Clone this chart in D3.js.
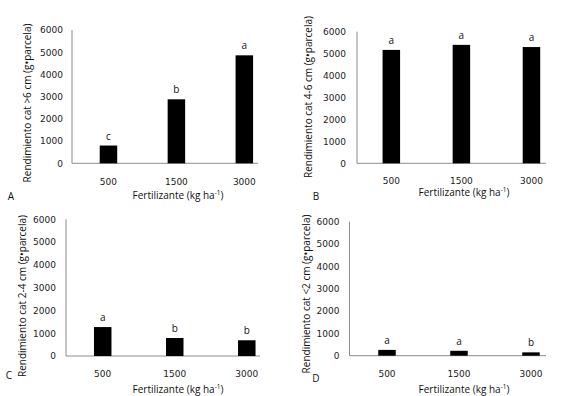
<!DOCTYPE html>
<html><head><meta charset="utf-8">
<script src="https://cdn.jsdelivr.net/npm/d3@7"></script>
<style>body{margin:0;background:#fff}svg{display:block}</style>
</head><body>
<script>
const categories = ["500", "1500", "3000"];
const yTicks = [0, 1000, 2000, 3000, 4000, 5000, 6000];
const valuesA = [800, 2880, 4860];
const valuesB = [5170, 5400, 5300];
const valuesC = [1270, 790, 690];
const valuesD = [260, 220, 150];
const lettersA = ["c", "b", "a"];
const lettersB = ["a", "a", "a"];
const lettersC = ["a", "b", "b"];
const lettersD = ["a", "a", "b"];
const panelNames = ["A", "B", "C", "D"];
const yLabels = [
  "Rendimiento cat >6 cm (g\u2022parcela)",
  "Rendimiento cat 4-6 cm (g\u2022parcela)",
  "Rendimiento cat 2-4 cm (g\u2022parcela)",
  "Rendimiento cat <2 cm (g\u2022parcela)"
];

const layouts = [
  {ax:72, y0:163.3, y1:30, r:[74.5,278.3], end:258, gap:9, tickY:185, xl:[178,199], pl:[11,200], yl:[27,103]},
  {ax:357, y0:163.3, y1:31.7, r:[356.3,566.5], end:546, gap:11, tickY:184, xl:[464,195.5], pl:[316,200], yl:[308,97]},
  {ax:66, y0:356, y1:219.3, r:[66.7,282.8], end:260, gap:10, tickY:376.5, xl:[178,392.5], pl:[9,379], yl:[22,296]},
  {ax:349.5, y0:355.7, y1:221.7, r:[351,567], end:546, gap:10, tickY:376.5, xl:[464,392.5], pl:[316,382], yl:[306,294]}
];
const data = [valuesA, valuesB, valuesC, valuesD];
const letters = [lettersA, lettersB, lettersC, lettersD];

const svg = d3.select("body").append("svg").attr("width", 562).attr("height", 396);
const tickFont = "'DejaVu Sans', Verdana, sans-serif";
const labFont = "'Open Sans', 'Liberation Sans', Arial, sans-serif";

layouts.forEach((L, i) => {
  const g = svg.append("g");
  const y = d3.scaleLinear().domain([0, 6000]).range([L.y0, L.y1]);
  const x = d3.scaleBand().domain(categories).range(L.r).paddingInner(0.75).paddingOuter(0.375);
  const yAxis = d3.axisLeft(y).tickValues(yTicks).tickSize(0).tickPadding(L.gap).tickFormat(d3.format("d"));
  const ya = g.append("g").attr("transform", `translate(${L.ax},0)`).call(yAxis);
  ya.select(".domain").attr("stroke", "#8c8c8c").attr("d", `M0,${L.y1}V${L.y0}`);
  ya.selectAll("text").attr("font-family", tickFont).attr("font-size", 9).attr("fill", "#222");
  g.append("line").attr("x1", L.ax).attr("x2", L.end).attr("y1", L.y0).attr("y2", L.y0)
    .attr("stroke", "#8c8c8c").attr("stroke-width", 1);
  const bw = 17.5;
  g.selectAll("rect.bar").data(data[i]).enter().append("rect").attr("class", "bar")
    .attr("x", (d, j) => x(categories[j]) + x.bandwidth() / 2 - bw / 2)
    .attr("width", bw)
    .attr("y", d => y(d))
    .attr("height", d => y(0) - y(d))
    .attr("fill", "#000");
  g.selectAll("text.let").data(data[i]).enter().append("text").attr("class", "let")
    .attr("x", (d, j) => x(categories[j]) + x.bandwidth() / 2)
    .attr("y", d => y(d) - 6)
    .attr("text-anchor", "middle")
    .attr("font-family", labFont).attr("font-size", 10).attr("fill", "#111")
    .text((d, j) => letters[i][j]);
  g.selectAll("text.xt").data(categories).enter().append("text").attr("class", "xt")
    .attr("x", d => x(d) + x.bandwidth() / 2)
    .attr("y", L.tickY)
    .attr("text-anchor", "middle")
    .attr("font-family", tickFont).attr("font-size", 9).attr("fill", "#222")
    .text(d => d);
  const xl = g.append("text").attr("x", L.xl[0]).attr("y", L.xl[1]).attr("text-anchor", "middle")
    .attr("font-family", labFont).attr("font-size", 10).attr("fill", "#111");
  xl.append("tspan").text("Fertilizante (kg ha");
  xl.append("tspan").attr("font-size", 6.5).attr("dy", -4).text("-1");
  xl.append("tspan").attr("dy", 4).text(")");
  g.append("text").attr("x", L.pl[0]).attr("y", L.pl[1]).attr("text-anchor", "middle")
    .attr("font-family", labFont).attr("font-size", 10).attr("fill", "#111").text(panelNames[i]);
  g.append("text").attr("transform", `translate(${L.yl[0]},${L.yl[1]}) rotate(-90)`)
    .attr("text-anchor", "middle").attr("dy", "0.35em")
    .attr("font-family", labFont).attr("font-size", 10).attr("fill", "#111")
    .text(yLabels[i]);
});
</script>
</body></html>
